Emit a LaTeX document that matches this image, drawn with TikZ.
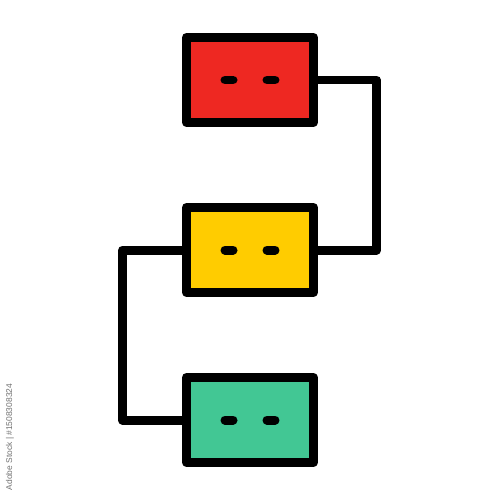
\documentclass[tikz,border=0pt]{standalone}
\usepackage{fontspec}
\setsansfont{Liberation Sans}
\begin{document}
\begin{tikzpicture}[x=0.02cm,y=-0.02cm,
  line width=0.18cm, line join=round,
  box/.style={draw=black, rectangle, minimum width=2.54cm, minimum height=1.7cm, inner sep=0pt},
  pill/.style={line width=0.18cm, line cap=round},
  wire/.style={draw=black, line width=0.18cm, line join=round}]
\definecolor{boxred}{RGB}{238,40,34}
\definecolor{boxyellow}{RGB}{255,204,0}
\definecolor{boxgreen}{RGB}{66,199,148}
\useasboundingbox (0,0) rectangle (500,500);
\fill[white] (0,0) rectangle (500,500);
\coordinate (c1) at (376.5,80);
\coordinate (c2) at (122.5,250);
\node[box, fill=boxred] (top) at (250,80) {};
\node[box, fill=boxyellow] (mid) at (250,250) {};
\node[box, fill=boxgreen] (bot) at (250,420) {};
\draw[wire] (top.east) -- (c1) |- (mid.east);
\draw[wire] (mid.west) -- (c2) |- (bot.west);
\foreach \n in {top,mid,bot}{
  \draw[pill] ([xshift=-0.5cm]\n.center) -- ([xshift=-0.34cm]\n.center);
  \draw[pill] ([xshift=0.34cm]\n.center) -- ([xshift=0.5cm]\n.center);
}
\node[rotate=90, text=black!55, font=\sffamily\fontsize{4.8}{5}\selectfont, inner sep=0pt] (wm) at (10,437) {Adobe Stock | \#1508308324};
\end{tikzpicture}
\end{document}
